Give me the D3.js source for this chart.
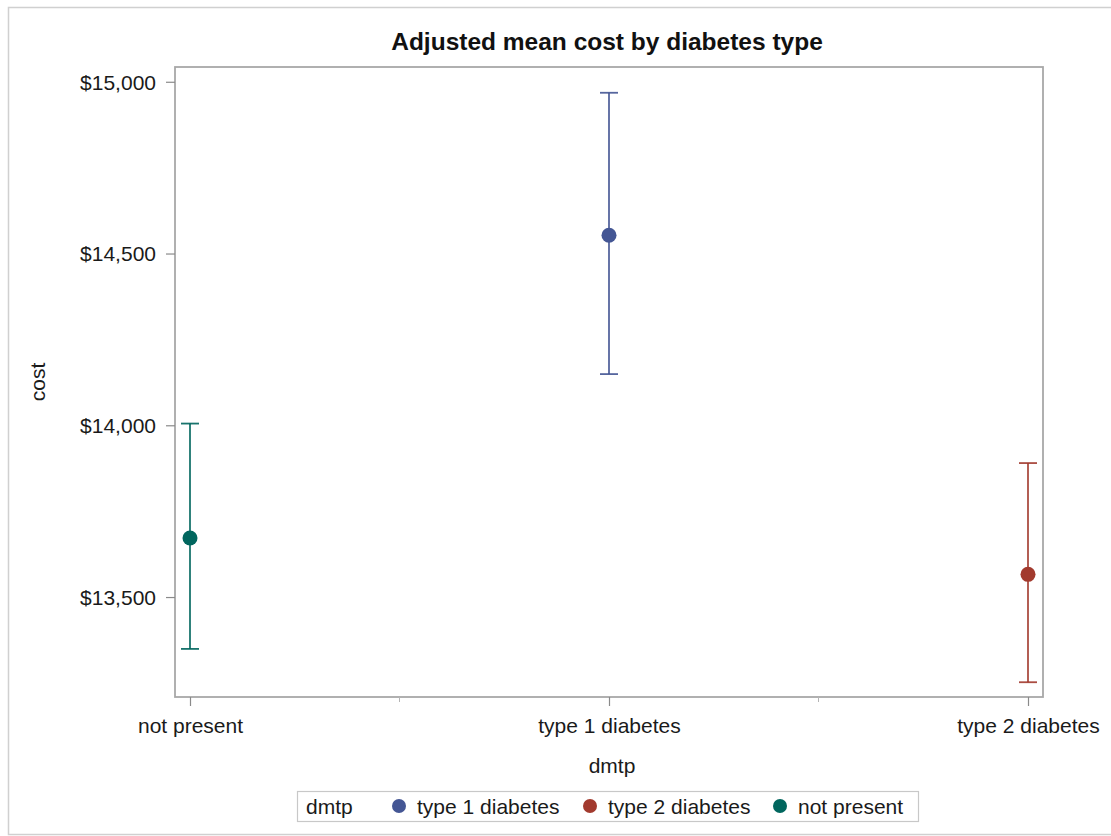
<!DOCTYPE html>
<html>
<head>
<meta charset="utf-8">
<script src="https://cdn.jsdelivr.net/npm/d3@7"></script>
<style>
  html, body { margin: 0; padding: 0; background: #fff; }
  svg { display: block; font-family: "Liberation Sans", Arial, sans-serif; }
</style>
</head>
<body>
<svg id="chart" width="1111" height="836"></svg>
<script>
// Adjusted mean cost (with confidence limits) by diabetes type
const categories = ["not present", "type 1 diabetes", "type 2 diabetes"];
const meanCost   = [13672, 14553, 13566];
const lowerCost  = [13349, 14149, 13252];
const upperCost  = [14005, 14968, 13890];
const yTicks     = [13500, 14000, 14500, 15000];
const legendOrder = ["type 1 diabetes", "type 2 diabetes", "not present"];
const colorMap = {
  "type 1 diabetes": "#445694",
  "type 2 diabetes": "#A23A2E",
  "not present": "#01665E"
};

const W = 1111, H = 836;
const plot = { left: 175, top: 67, right: 1043, bottom: 697 };
const labelSize = "21px";

const svg = d3.select("#chart");

// outer graph border
svg.append("rect")
  .attr("x", 8.5).attr("y", 7.5)
  .attr("width", W + 10).attr("height", 827)
  .attr("fill", "#fff").attr("stroke", "#d0d0d0").attr("stroke-width", 1.5);

const x = d3.scalePoint()
  .domain(categories)
  .range([plot.left + 15, plot.right - 15]);

const y = d3.scaleLinear()
  .domain([13209, 15043])
  .range([plot.bottom, plot.top]);

const fmt = d3.format("$,");

// plot frame
svg.append("rect")
  .attr("x", plot.left).attr("y", plot.top)
  .attr("width", plot.right - plot.left).attr("height", plot.bottom - plot.top)
  .attr("fill", "none").attr("stroke", "#a8a8a8").attr("stroke-width", 1.8);

// y axis
const yAxis = svg.append("g")
  .attr("transform", `translate(${plot.left},0)`)
  .call(d3.axisLeft(y).tickValues(yTicks).tickFormat(fmt).tickSize(9).tickPadding(10));
yAxis.select(".domain").remove();
yAxis.selectAll(".tick line").attr("stroke", "#8a8a8a").attr("stroke-width", 1.2);
yAxis.selectAll(".tick text")
  .attr("fill", "#1a1a1a").style("font-size", labelSize).attr("dy", "0.35em");

// x axis
const xAxis = svg.append("g")
  .attr("transform", `translate(0,${plot.bottom})`)
  .call(d3.axisBottom(x).tickSize(9).tickPadding(12));
xAxis.select(".domain").remove();
xAxis.selectAll(".tick line").attr("stroke", "#8a8a8a").attr("stroke-width", 1.2);
xAxis.selectAll(".tick text")
  .attr("fill", "#1a1a1a").style("font-size", labelSize);

// minor ticks between categories
const mids = d3.pairs(categories).map(([a, b]) => (x(a) + x(b)) / 2);
svg.append("g").selectAll("line")
  .data(mids).join("line")
  .attr("x1", d => d).attr("x2", d => d)
  .attr("y1", plot.bottom).attr("y2", plot.bottom + 5)
  .attr("stroke", "#b5b5b5").attr("stroke-width", 1);

// axis labels
svg.append("text")
  .attr("x", x(categories[1]) + 3).attr("y", 773)
  .attr("text-anchor", "middle").attr("fill", "#1a1a1a")
  .style("font-size", labelSize).text("dmtp");

svg.append("text")
  .attr("transform", `translate(45,382) rotate(-90)`)
  .attr("text-anchor", "middle").attr("fill", "#1a1a1a")
  .style("font-size", labelSize).text("cost");

// title
svg.append("text")
  .attr("x", 607).attr("y", 50)
  .attr("text-anchor", "middle").attr("fill", "#111")
  .style("font-size", "24.5px").style("font-weight", "bold")
  .text("Adjusted mean cost by diabetes type");

// error bars and means
const rows = categories.map((c, i) => ({ c, m: meanCost[i], lo: lowerCost[i], hi: upperCost[i] }));
const g = svg.append("g");
const capW = 9;

g.selectAll("line.stem").data(rows).join("line")
  .attr("class", "stem")
  .attr("x1", d => x(d.c)).attr("x2", d => x(d.c))
  .attr("y1", d => y(d.lo)).attr("y2", d => y(d.hi))
  .attr("stroke", d => colorMap[d.c]).attr("stroke-width", 1.8).attr("opacity", 0.9);

["lo", "hi"].forEach(k => {
  g.selectAll(`line.cap-${k}`).data(rows).join("line")
    .attr("class", `cap-${k}`)
    .attr("x1", d => x(d.c) - capW).attr("x2", d => x(d.c) + capW)
    .attr("y1", d => y(d[k])).attr("y2", d => y(d[k]))
    .attr("stroke", d => colorMap[d.c]).attr("stroke-width", 1.8).attr("opacity", 0.9);
});

g.selectAll("circle").data(rows).join("circle")
  .attr("cx", d => x(d.c)).attr("cy", d => y(d.m))
  .attr("r", 7.5)
  .attr("fill", d => colorMap[d.c]);

// legend
const lg = svg.append("g");
lg.append("rect")
  .attr("x", 297.5).attr("y", 791.5).attr("width", 621).attr("height", 30)
  .attr("fill", "#fff").attr("stroke", "#c8c8c8").attr("stroke-width", 1.2);
lg.append("text")
  .attr("x", 306).attr("y", 813.5).attr("fill", "#1a1a1a")
  .style("font-size", labelSize).text("dmtp");

const legendX = [399, 590, 780];
legendOrder.forEach((name, i) => {
  lg.append("circle")
    .attr("cx", legendX[i]).attr("cy", 806).attr("r", 7)
    .attr("fill", colorMap[name]);
  lg.append("text")
    .attr("x", legendX[i] + 18).attr("y", 813.5).attr("fill", "#1a1a1a")
    .style("font-size", labelSize).text(name);
});
</script>
</body>
</html>
